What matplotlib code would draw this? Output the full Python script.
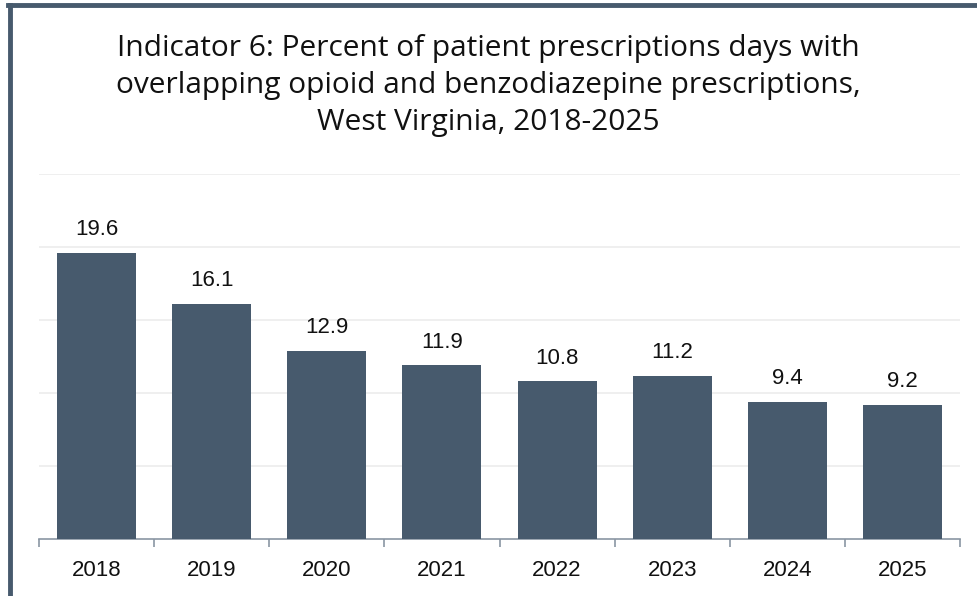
import matplotlib.pyplot as plt
import numpy as np
from matplotlib.lines import Line2D

# Data
years = ['2018', '2019', '2020', '2021', '2022', '2023', '2024', '2025']
percent = [19.6, 16.1, 12.9, 11.9, 10.8, 11.2, 9.4, 9.2]
title_lines = ['Indicator 6: Percent of patient prescriptions days with',
               'overlapping opioid and benzodiazepine prescriptions,',
               'West Virginia, 2018-2025']

bar_color = '#475a6d'
axis_color = '#8a96a3'
label_font = ['Liberation Sans', 'DejaVu Sans']
title_font = ['Open Sans', 'DejaVu Sans']

fig = plt.figure(figsize=(9.78, 5.96), dpi=100)
ax = fig.add_axes([0.0399, 0.0956, 0.9417, 0.612])

x = np.arange(len(years))
ax.bar(x, percent, width=0.686, color=bar_color, zorder=3)

# Value labels above the bars
for xi, v in zip(x, percent):
    ax.annotate(f'{v:.1f}', (xi, v), xytext=(0, 12.7), textcoords='offset points',
                ha='center', va='baseline', fontsize=16, color='#111111',
                family=label_font)

ax.set_xlim(-0.5, len(years) - 0.5)
ax.set_ylim(0, 25)
ax.set_yticks([5, 10, 15, 20, 25])
ax.set_yticklabels([])
ax.tick_params(axis='y', length=0)
ax.grid(axis='y', color='#ececec', linewidth=1.2, zorder=0)

# Category ticks between the bars
ax.set_xticks(x)
ax.set_xticklabels(years, fontsize=16, family=label_font, color='#111111')
ax.set_xticks(np.arange(-0.5, len(years)), minor=True)
ax.tick_params(axis='x', which='major', length=0, pad=15)
ax.tick_params(axis='x', which='minor', length=6, color=axis_color, width=1.2)

for s in ['top', 'right', 'left']:
    ax.spines[s].set_visible(False)
ax.spines['bottom'].set_color(axis_color)
ax.spines['bottom'].set_linewidth(1.2)

# Title, one line at a time
for yb, line in zip([0.9065, 0.844, 0.7819], title_lines):
    fig.text(0.499, yb, line, ha='center', va='baseline', fontsize=21.5,
             color='#111111', family=title_font)

# Frame border (left and top)
fig.add_artist(Line2D([0.0102, 0.0102], [0, 0.992], transform=fig.transFigure,
                      color=bar_color, linewidth=3.5))
fig.add_artist(Line2D([0.0085, 1.0], [0.992, 0.992], transform=fig.transFigure,
                      color=bar_color, linewidth=3.5))

fig.savefig('out.png', dpi=100)
